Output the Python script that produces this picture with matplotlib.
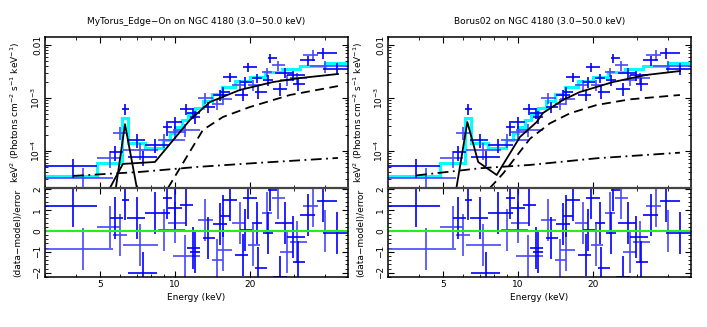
import numpy as np
import matplotlib
matplotlib.use('Agg')
import matplotlib.pyplot as plt
from matplotlib.ticker import FixedLocator, NullFormatter

####################################################################################################
# DATA
####################################################################################################

# binned spectrum, shared by both fits ; instr 0 = FPMA (dark), 1 = FPMB (light)
e_lo = [3.00, 3.00, 4.85, 5.47, 5.63, 6.11, 6.41, 6.17, 6.46, 7.56, 8.53, 8.93, 9.36, 9.36, 10.45, 9.80,
        11.15, 11.47, 12.35, 12.93, 14.05, 14.18, 15.13, 14.72, 15.56, 17.38, 16.91, 18.21, 18.72, 19.61,
        20.34, 20.92, 22.31, 22.52, 23.59, 24.48, 25.16, 24.70, 26.36, 28.12, 28.91, 29.72, 31.72, 32.61,
        37.10, 34.77, 39.24]
e_hi = [4.85, 5.63, 6.00, 6.17, 6.41, 6.52, 7.56, 8.53, 8.45, 9.53, 10.95, 9.71, 10.65, 11.05, 11.79, 12.58,
        12.58, 12.58, 14.18, 14.45, 15.56, 16.14, 16.60, 16.91, 17.71, 19.61, 19.07, 20.34, 21.31, 21.91,
        22.31, 23.37, 24.48, 24.70, 25.63, 27.61, 29.72, 28.12, 29.72, 33.21, 33.83, 33.21, 36.42, 37.46,
        44.67, 49.45, 50.37]
e_mid = [3.89, 4.26, 5.47, 5.73, 6.00, 6.29, 7.03, 7.22, 7.43, 8.30, 9.02, 9.27, 9.98, 9.98, 11.05, 10.95,
         11.79, 12.01, 13.17, 13.54, 14.72, 15.13, 15.56, 15.56, 16.60, 18.72, 18.21, 19.07, 19.61, 20.53,
         21.31, 21.50, 23.37, 23.59, 24.03, 25.87, 27.61, 26.36, 28.12, 29.72, 30.85, 31.14, 34.14, 35.75,
         39.24, 39.97, 44.67]
flux = [5.1e-5, 3.1e-5, 7.4e-5, 9.6e-5, 2.2e-4, 6.2e-4, 1.6e-4, 1.04e-4, 7.7e-5, 1.3e-4, 1.6e-4, 2.84e-4,
        3.5e-4, 2.3e-4, 6.2e-4, 2.5e-4, 5.2e-4, 4.4e-4, 1.0e-3, 6.8e-4, 7.7e-4, 1.14e-3, 1.30e-3, 9.6e-4,
        2.5e-3, 1.14e-3, 1.76e-3, 2.0e-3, 3.85e-3, 1.76e-3, 2.4e-3, 1.3e-3, 3.1e-3, 2.2e-3, 5.7e-3, 4.2e-3,
        3.0e-3, 1.5e-3, 2.2e-3, 2.7e-3, 2.4e-3, 1.85e-3, 5.2e-3, 6.5e-3, 7.1e-3, 4.0e-3, 3.6e-3]
flux_err = [2.0e-5, 1.6e-5, 2.6e-5, 3.0e-5, 6e-5, 1.5e-4, 4.5e-5, 3.5e-5, 2.5e-5, 4e-5, 4.5e-5, 9e-5,
            9e-5, 6e-5, 1.4e-4, 7e-5, 1.2e-4, 1.2e-4, 2.2e-4, 1.6e-4, 1.8e-4, 2.5e-4, 2.8e-4, 2.2e-4,
            5e-4, 2.8e-4, 4e-4, 4.5e-4, 8e-4, 4e-4, 5e-4, 3.5e-4, 6.5e-4, 5e-4, 1.2e-3, 9e-4,
            6.5e-4, 4e-4, 5e-4, 6e-4, 6e-4, 5e-4, 1.1e-3, 1.4e-3, 1.6e-3, 1.0e-3, 9e-4]
resid = [1.2, -0.85, 0.2, 0.63, -0.2, 1.5, 0.63, -0.67, -2.0, 0.85, 0.05, 1.55, 1.1, 0.4, 1.25, -1.2,
         -0.8, -1.0, 0.52, -0.35, -1.4, 0.33, 0.7, -0.9, 1.48, -1.15, 0.38, 0.05, 1.55, -0.67, 0.38, -1.76,
         0.85, -0.1, 1.95, 1.55, 0.38, -2.2, -1.0, -0.28, -0.52, -1.5, 0.76, 1.2, 1.43, 0.0, -0.1]
instr = [0, 1, 1, 0, 1, 0, 0, 1, 0, 0, 1, 0, 0, 1, 0, 1, 0, 0, 1, 0, 1, 0, 0, 1, 0, 0, 1, 0, 0, 1, 0, 0,
         1, 0, 0, 1, 0, 0, 1, 0, 1, 0, 0, 1, 0, 1, 0]

# total folded model (cyan histogram)
model_edges = [3.00, 4.85, 6.11, 6.46, 7.56, 8.93, 9.53, 9.98, 10.65, 11.26, 12.01, 12.93, 14.05, 15.41,
               17.38, 19.97, 22.94, 26.85, 31.72, 39.97, 50.37]
model_vals = [3.42e-5, 5.94e-5, 4.20e-4, 1.42e-4, 1.14e-4, 1.61e-4, 2.19e-4, 2.84e-4, 3.85e-4, 4.99e-4,
              6.48e-4, 8.77e-4, 1.19e-3, 1.61e-3, 2.10e-3, 2.49e-3, 3.10e-3, 3.52e-3, 4.02e-3, 4.57e-3]

# MyTorus edge-on components
myt_line_e = [5.78, 6.29, 7.02]
myt_line_f = [2.0e-5, 3.2e-4, 2.0e-5]
myt_cont_e = [5.47, 6.17, 8.30, 11.47, 13.80, 18.21, 24.70, 31.72, 45.1]
myt_cont_f = [2.0e-5, 5.7e-5, 6.2e-5, 3.85e-4, 8.4e-4, 1.42e-3, 2.0e-3, 2.38e-3, 2.84e-3]
myt_dash_e = [9.36, 12.23, 12.93, 15.56, 19.97, 28.91, 45.1]
myt_dash_f = [2.0e-5, 1.61e-4, 2.49e-4, 4.38e-4, 6.76e-4, 1.14e-3, 1.68e-3]
myt_scat_e = [3.89, 7.22, 12.23, 21.31, 45.1]
myt_scat_f = [3.38e-5, 4.02e-5, 4.99e-5, 5.94e-5, 7.38e-5]

# Borus02 components
bor_cont_e = [5.65, 6.25, 6.91, 8.20, 10.17, 11.87, 12.58, 15.13, 17.71, 24.03, 32.61, 44.67]
bor_cont_f = [2.0e-5, 3.52e-4, 6.2e-5, 3.52e-5, 1.84e-4, 3.52e-4, 5.21e-4, 9.17e-4, 1.30e-3, 2.0e-3,
              2.72e-3, 3.23e-3]
bor_dash_e = [7.70, 8.72, 11.15, 13.42, 16.14, 20.67, 28.12, 44.67]
bor_dash_f = [2.0e-5, 3.8e-5, 1.7e-4, 3.33e-4, 5.14e-4, 7.38e-4, 9.44e-4, 1.14e-3]
bor_scat_e = [3.89, 7.03, 11.15, 20.67, 44.67]
bor_scat_f = [3.45e-5, 4.72e-5, 5.45e-5, 7.28e-5, 9.29e-5]

####################################################################################################
# PLOT
####################################################################################################

plt.rcParams['font.family'] = 'DejaVu Sans'
fs = 6.5
dark = '#0000ff'
light = '#4848ff'

fig = plt.figure(figsize=(7.07, 3.27), dpi=100)

e_lo = np.array(e_lo); e_hi = np.array(e_hi); e_mid = np.array(e_mid)
flux = np.array(flux); flux_err = np.array(flux_err); resid = np.array(resid); instr = np.array(instr)


def style_axes(ax):
    ax.set_xscale('log')
    ax.set_xlim(3.0, 49.5)
    ax.xaxis.set_major_locator(FixedLocator([5, 10, 20]))
    ax.xaxis.set_minor_locator(FixedLocator([3, 4, 6, 7, 8, 9, 30, 40]))
    ax.xaxis.set_minor_formatter(NullFormatter())
    ax.tick_params(which='both', direction='in', top=True, right=True, labelsize=fs, pad=2)
    ax.tick_params(which='major', length=4, width=0.8)
    ax.tick_params(which='minor', length=2, width=0.6)
    for s in ax.spines.values():
        s.set_linewidth(1.1)


def draw_panel(x0, title, comps):
    w = 0.4286
    ax1 = fig.add_axes([x0, 0.4251, w, 0.4618])
    ax2 = fig.add_axes([x0, 0.1529, w, 0.2722])

    for i, col in ((1, light), (0, dark)):
        m = instr == i
        ax1.errorbar(e_mid[m], flux[m], xerr=[e_mid[m] - e_lo[m], e_hi[m] - e_mid[m]],
                     yerr=flux_err[m], fmt='none', ecolor=col, elinewidth=1.2, capsize=0)
        ax2.errorbar(e_mid[m], resid[m], xerr=[e_mid[m] - e_lo[m], e_hi[m] - e_mid[m]],
                     yerr=np.ones(m.sum()), fmt='none', ecolor=col, elinewidth=1.2, capsize=0)

    ax1.stairs(model_vals, model_edges, color='cyan', lw=2.2, baseline=None)
    for e, f, ls in comps:
        ax1.plot(e, f, color='black', lw=1.3, ls=ls)

    style_axes(ax1)
    ax1.set_yscale('log')
    ax1.set_ylim(2.0e-5, 0.0142)
    ax1.set_yticks([1e-4, 1e-3, 1e-2])
    ax1.set_yticklabels([r'$10^{-4}$', r'$10^{-3}$', '0.01'], rotation=90, va='center')
    ax1.tick_params(axis='x', labelbottom=False)
    ax1.set_ylabel(r'keV$^2$ (Photons cm$^{-2}$ s$^{-1}$ keV$^{-1}$)', fontsize=fs)
    ax1.yaxis.set_label_coords(-0.075, 0.5)
    ax1.set_title(title, fontsize=fs, pad=9)

    ax2.axhline(0, color='#22ee22', lw=1.5)
    style_axes(ax2)
    ax2.set_ylim(-2.2, 2.05)
    ax2.set_yticks([-2, -1, 0, 1, 2])
    ax2.set_yticklabels(['\u22122', '\u22121', '0', '1', '2'], rotation=90, va='center')
    ax2.yaxis.set_minor_locator(FixedLocator(np.arange(-2.2, 2.1, 0.2)))
    ax2.set_xticklabels(['5', '10', '20'])
    ax2.set_xlabel('Energy (keV)', fontsize=fs, labelpad=3)
    ax2.set_ylabel('(data\u2212model)/error', fontsize=fs)
    ax2.yaxis.set_label_coords(-0.075, 0.5)
    ax2.spines['top'].set_color('#444444')
    ax2.spines['top'].set_linewidth(1.6)


draw_panel(0.0636, 'MyTorus_Edge\u2212On on NGC 4180 (3.0\u221250.0 keV)',
           [(myt_line_e, myt_line_f, '-'), (myt_cont_e, myt_cont_f, '-'),
            (myt_dash_e, myt_dash_f, (0, (5, 3))), (myt_scat_e, myt_scat_f, (0, (6, 2.5, 1, 2.5)))])
draw_panel(0.5488, 'Borus02 on NGC 4180 (3.0\u221250.0 keV)',
           [(bor_cont_e, bor_cont_f, '-'),
            (bor_dash_e, bor_dash_f, (0, (5, 3))), (bor_scat_e, bor_scat_f, (0, (6, 2.5, 1, 2.5)))])

fig.savefig('out.png', dpi=100)
